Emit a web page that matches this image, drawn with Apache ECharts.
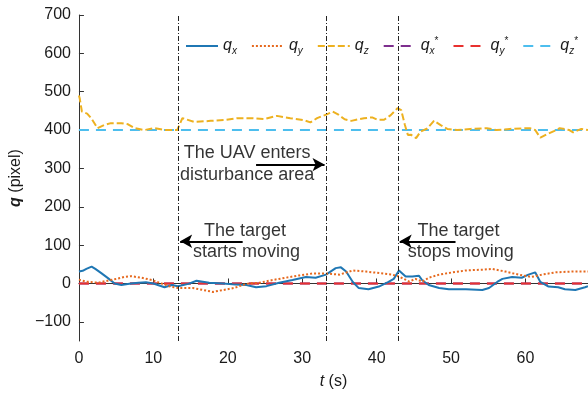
<!DOCTYPE html>
<html>
<head>
<meta charset="utf-8">
<script src="https://cdn.jsdelivr.net/npm/echarts@6/dist/echarts.min.js"></script>
<style>html,body{margin:0;padding:0;background:#fff;}#c{width:588px;height:402px;}</style>
</head>
<body>
<div id="c"></div>
<script>
// ---- data ----
var tX = [0,0.5,1,1.7,2.2,3,3.9,4.8,5.7,7,8,9,10,11.5,12.5,13.3,14.7,15.8,17.5,19.4,21,22.5,23.8,25.2,26.9,28.7,30.5,31.8,33.2,34.5,35.2,35.9,36.8,37.6,38.9,40.3,41.6,42.3,43,43.9,44.8,45.7,46.1,47,48.4,49.7,52,54.2,55.1,56.2,56.9,58.2,59.5,60.4,61.3,62,63.1,64.4,65.3,66.7,68,68.4];
var qx = [31,33,38,44,38,27,14,0,-4,0,2,3,0,-10,-4,-7,-1,7,2,0,-3,-4,-10,-7,2,9,17,15,23,40,42,31,4,-12,-15,-8,4,12,34,18,18,20,9,-4,-12,-15,-15,-17,-12,4,12,17,15,23,29,4,-8,-10,-15,-17,-10,-7];
var tY = [0,0.9,2.6,4,4.8,6.1,7,8.4,9.8,11.1,12.4,13.5,15.3,16.7,18,19.4,20.8,22,22.8,24.3,26,27.8,29.6,31.4,33.2,35,36.8,38.6,40.4,42.1,43,44.4,45.2,46.1,47,48.4,50.2,52,54.2,55.5,57.3,59.1,60.8,62.2,64,66.2,68.4];
var qy = [10,5,2,8,11,17,19,15,9,0,-9,-12,-12,-17,-22,-17,-12,-4,0,2,9,15,21,26,26,23,34,31,27,23,18,5,12,5,15,23,29,34,36,38,31,23,17,23,29,31,31];
var tZ = [0,0.1,0.4,1.1,1.65,2.5,3.4,4.3,5.7,6.6,7.5,8.8,10.1,11.5,13.2,13.9,15.5,17.7,19.5,21.3,23.1,24.9,26.6,28.4,30.2,31.1,32,33.3,34.1,34.8,35.7,36.6,37.5,38.3,39.4,40.1,41,41.9,42.8,43.3,43.8,44.2,44.6,45.3,45.9,46.8,47.7,48.6,49.5,50.8,52.6,54.8,56.1,57.9,60.6,61.3,62,62.9,63.9,64.6,65.9,66.4,67.5,68.4];
var qz = [490,483,448,443,431,405,413,418,418,415,405,400,405,400,400,431,421,424,426,431,431,429,437,431,426,420,431,441,448,441,428,424,428,431,433,427,427,439,457,452,413,387,388,379,396,404,424,413,403,400,403,405,400,403,405,400,380,389,398,405,400,394,403,400];
var refT = [0, 68.4];
var refX = [0, 0];
var refY = [0, 0];
var refZ = [400, 400];
var yTicks = [-100,0,100,200,300,400,500,600,700];
var xTicks = [0,10,20,30,40,50,60];
var eventT = [13.4, 33.2, 42.9];
var notes = [
  [22.6, 339, 'The UAV enters'],
  [22.6, 282, 'disturbance area'],
  [22.3, 137, 'The target'],
  [22.5, 82, 'starts moving'],
  [51.0, 137, 'The target'],
  [51.3, 82, 'stops moving']
];
var arrows = [
  [[23.8, 310], [33.0, 310]],
  [[22.0, 110], [13.6, 110]],
  [[50.6, 110], [43.1, 110]]
];

function pairs(t, v) { return t.map(function (x, i) { return [x, v[i]]; }); }

var FONT = 'Liberation Sans';
var TXT = '#1a1a1a';
var legendRich = {
  q: { fontFamily: FONT, fontStyle: 'italic', fontSize: 16, color: TXT, lineHeight: 20, verticalAlign: 'middle' },
  sb: { fontFamily: FONT, fontStyle: 'italic', fontSize: 10, color: TXT, lineHeight: 10, verticalAlign: 'bottom' },
  sp: { fontFamily: FONT, fontSize: 10, color: TXT, lineHeight: 10, verticalAlign: 'top' }
};
var legendText = {
  qx: '{q|q}{sb|x}', qy: '{q|q}{sb|y}', qz: '{q|q}{sb|z}',
  qxs: '{q|q}{sb|x}{sp|*}', qys: '{q|q}{sb|y}{sp|*}', qzs: '{q|q}{sb|z}{sp|*}'
};

function lineSeries(name, data, color, type, width) {
  return {
    name: name, type: 'line', data: data, symbol: 'none', showSymbol: false,
    animation: false, silent: true,
    lineStyle: { color: color, type: type, width: width },
    itemStyle: { color: color }
  };
}

var series = [
  lineSeries('qxs', pairs(refT, refX), '#7E2F8E', [10, 7], 2),
  lineSeries('qys', pairs(refT, refY), '#E8312F', [10, 7], 2),
  lineSeries('qzs', pairs(refT, refZ), '#4DBEEE', [10, 7], 2),
  lineSeries('qx', pairs(tX, qx), '#1F77B4', 'solid', 2),
  lineSeries('qy', pairs(tY, qy), '#E6691E', [2, 2], 2),
  lineSeries('qz', pairs(tZ, qz), '#EDB120', [7, 3], 2),
  {
    name: 'notes', type: 'scatter', data: notes, symbolSize: 0, silent: true, animation: false,
    encode: { x: 0, y: 1 },
    label: {
      show: true, position: 'inside', formatter: function (p) { return p.data[2]; },
      fontFamily: FONT, fontSize: 18, color: '#000'
    },
    markLine: {
      silent: true, animation: false, symbol: 'none',
      label: { show: false },
      lineStyle: { color: '#222', type: [5, 2, 1, 2], width: 1 },
      data: eventT.map(function (t) { return { xAxis: t }; })
        .concat(arrows.map(function (a) {
          return [
            { coord: a[0], symbol: 'none', lineStyle: { type: 'solid', width: 2, color: '#000' } },
            { coord: a[1], symbol: 'arrow', symbolSize: [10, 12] }
          ];
        }))
    }
  }
];

var chart = echarts.init(document.getElementById('c'), null, { renderer: 'canvas' });
chart.setOption({
  backgroundColor: '#fff',
  animation: false,
  grid: { left: 77, right: 0, top: 15, bottom: 61, containLabel: false },
  legend: {
    data: ['qx', 'qy', 'qz', 'qxs', 'qys', 'qzs'],
    left: 180, top: 31, itemWidth: 32, itemHeight: 10, itemGap: 14,
    selectedMode: false,
    itemStyle: { opacity: 0, borderWidth: 0 },
    formatter: function (n) { return legendText[n]; },
    textStyle: { rich: legendRich, padding: [0, 0, 0, 0] }
  },
  xAxis: {
    type: 'value', min: 0, max: 68.4,
    name: '{it|t}{n| (s)}', nameLocation: 'middle', nameGap: 33,
    nameTextStyle: { rich: {
      it: { fontFamily: FONT, fontStyle: 'italic', fontSize: 16, color: TXT },
      n: { fontFamily: FONT, fontSize: 16, color: TXT }
    } },
    axisLine: { show: true, lineStyle: { color: '#333', width: 1 } },
    axisTick: { show: true, inside: true, length: 5, customValues: xTicks, lineStyle: { color: '#333' } },
    axisLabel: { customValues: xTicks, fontFamily: FONT, fontSize: 16, color: TXT, margin: 10 },
    splitLine: { show: false }
  },
  yAxis: {
    type: 'value', min: -150, max: 700,
    name: '{b|q}{n| (pixel)}', nameLocation: 'middle', nameGap: 47, nameRotate: 90,
    nameTextStyle: { rich: {
      b: { fontFamily: FONT, fontStyle: 'italic', fontWeight: 'bold', fontSize: 16, color: TXT },
      n: { fontFamily: FONT, fontSize: 16, color: TXT }
    } },
    axisLine: { show: true, lineStyle: { color: '#333', width: 1 } },
    axisTick: { show: true, inside: true, length: 5, customValues: yTicks, lineStyle: { color: '#333' } },
    axisLabel: {
      customValues: yTicks, fontFamily: FONT, fontSize: 16, color: TXT, margin: 8,
      formatter: function (v) { return String(v).replace('-', '\u2212'); }
    },
    splitLine: { show: false }
  },
  series: series
});
</script>
</body>
</html>
